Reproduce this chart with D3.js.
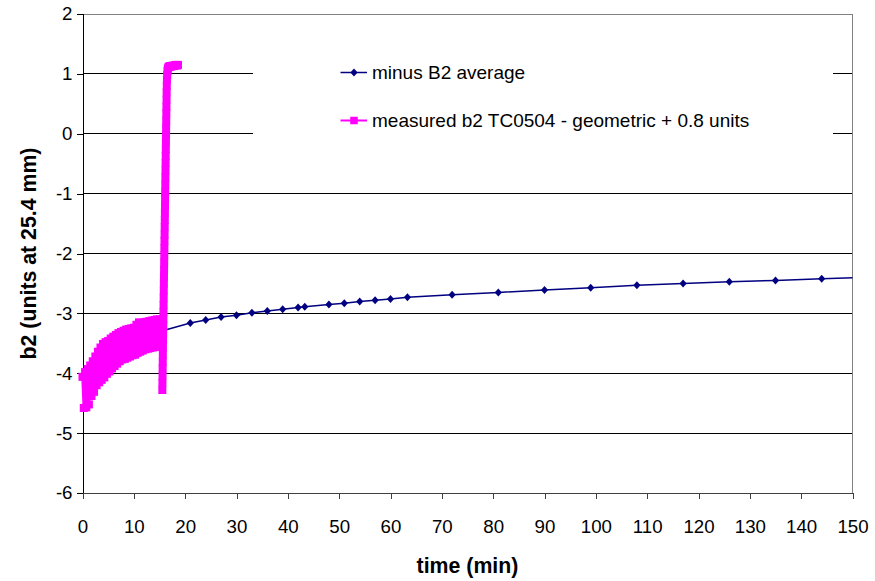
<!DOCTYPE html>
<html>
<head>
<meta charset="utf-8">
<script src="https://cdn.jsdelivr.net/npm/d3@7"></script>
<style>
  html, body { margin: 0; padding: 0; background: #fff; }
  svg { display: block; font-family: "Liberation Sans", Arial, sans-serif; }
</style>
</head>
<body>
<svg id="chart" width="875" height="581"></svg>
<script>
// Axis ticks
const xTicks = [0, 10, 20, 30, 40, 50, 60, 70, 80, 90, 100, 110, 120, 130, 140, 150];
const yTicks = [2, 1, 0, -1, -2, -3, -4, -5, -6];

// Series 1: minus B2 average
const avgTime = [15.6, 21, 24, 27, 30, 33, 36, 39, 42, 43.3, 48, 51, 54, 57, 60, 63.3,
                 72, 81, 90, 99, 108, 117, 126, 135, 144, 153];
const avgB2 = [-3.29, -3.16, -3.11, -3.06, -3.03, -2.99, -2.96, -2.93, -2.90, -2.89, -2.85,
               -2.83, -2.80, -2.78, -2.76, -2.73, -2.69, -2.65, -2.61, -2.57, -2.53, -2.50,
               -2.47, -2.45, -2.42, -2.40];

// Series 2: measured b2 TC0504 - geometric + 0.8 units
const measTime = [
  // ramp-up period, alternating readings
  0, 0.25, 0.5, 0.75, 1.0, 1.25, 1.5, 1.75, 2.0, 2.25, 2.5, 2.75, 3.0, 3.25,
  3.5, 3.75, 4.0, 4.25, 4.5, 4.75, 5.0, 5.25, 5.5, 5.75, 6.0, 6.25, 6.5, 6.75,
  7.0, 7.25, 7.5, 7.75, 8.0, 8.25, 8.5, 8.75, 9.0, 9.25, 9.5, 9.75, 10.0, 10.25,
  10.5, 10.75, 11.0, 11.25, 11.5, 11.75, 12.0, 12.25, 12.5, 12.75, 13.0, 13.25,
  13.5, 13.75, 14.0, 14.25, 14.5, 14.75, 15.0, 15.25,
  // fast jump
  15.55, 15.57, 15.59, 15.61, 15.63, 15.65, 15.67, 15.69, 15.71, 15.73, 15.75, 15.77,
  15.79, 15.81, 15.83, 15.85, 15.87, 15.89, 15.91, 15.93, 15.95, 15.97, 15.99, 16.01,
  16.03, 16.05, 16.07, 16.09, 16.11, 16.13, 16.15, 16.17, 16.19, 16.21, 16.23, 16.25,
  16.27, 16.29, 16.31, 16.33, 16.35, 16.37, 16.39, 16.42, 16.45,
  // plateau
  16.50, 16.56, 16.63, 16.72, 16.85, 17.0, 17.2, 17.4, 17.6, 17.8, 18.0, 18.2, 18.4, 18.6];
const measB2 = [
  -4.06, -4.58, -3.98, -4.57, -3.93, -4.52, -3.87, -4.38, -3.80, -4.31, -3.72,
  -4.20, -3.64, -4.15, -3.57, -4.11, -3.51, -4.07, -3.48, -4.01, -3.46, -3.97,
  -3.42, -3.92, -3.39, -3.88, -3.36, -3.84, -3.33, -3.80, -3.31, -3.77, -3.29,
  -3.76, -3.27, -3.74, -3.26, -3.72, -3.25, -3.70, -3.24, -3.69, -3.19, -3.66,
  -3.15, -3.64, -3.16, -3.62, -3.15, -3.60, -3.14, -3.59, -3.13, -3.58, -3.12,
  -3.57, -3.11, -3.55, -3.10, -3.56, -3.10, -3.55,
  -4.28, -4.16, -4.04, -3.92, -3.81, -3.69, -3.57, -3.45, -3.33, -3.21, -3.10, -2.98,
  -2.86, -2.74, -2.62, -2.50, -2.39, -2.27, -2.15, -2.03, -1.91, -1.79, -1.68, -1.56,
  -1.44, -1.32, -1.20, -1.08, -0.97, -0.85, -0.73, -0.61, -0.49, -0.37, -0.26, -0.14,
  -0.02, 0.10, 0.22, 0.34, 0.45, 0.57, 0.69, 0.80, 0.90,
  0.98, 1.05, 1.09, 1.11, 1.12, 1.13, 1.12, 1.13, 1.14, 1.13, 1.14, 1.15, 1.14, 1.15];

const seriesNames = ["minus B2 average", "measured b2 TC0504 - geometric + 0.8 units"];
const NAVY = "#000080", MAGENTA = "#FF00FF";

const svg = d3.select("#chart");
const plotL = 82.5, plotR = 852.5, plotT = 14, plotB = 493;

const x = d3.scaleLinear().domain([0, 150]).range([plotL, plotR]);
const y = d3.scaleLinear().domain([-6, 2]).range([plotB, plotT]);

// Gridlines
svg.append("g")
  .selectAll("line")
  .data(yTicks.filter(v => v > -6 && v < 2))
  .join("line")
  .attr("x1", plotL).attr("x2", plotR)
  .attr("y1", d => y(d)).attr("y2", d => y(d))
  .attr("stroke", "#000").attr("stroke-width", 1)
  .attr("shape-rendering", "crispEdges");

// Plot area border (top and right)
svg.append("path")
  .attr("d", `M${plotL},${plotT}H${plotR}V${plotB}`)
  .attr("fill", "none").attr("stroke", "#808080").attr("stroke-width", 1)
  .attr("shape-rendering", "crispEdges");

// Legend background (covers the gridlines behind it)
svg.append("rect")
  .attr("x", 253).attr("y", 45).attr("width", 580).attr("height", 105)
  .attr("fill", "#fff");

const fmt = d => String(d);

// Y axis
const yAxis = svg.append("g")
  .attr("transform", `translate(${plotL},0)`)
  .call(d3.axisLeft(y).tickValues(yTicks).tickSize(6).tickPadding(4).tickFormat(fmt));
yAxis.select(".domain").attr("stroke", "#000").attr("shape-rendering", "crispEdges");
yAxis.selectAll(".tick line").attr("stroke", "#000").attr("shape-rendering", "crispEdges");
yAxis.selectAll(".tick text")
  .attr("font-size", "18.7px").attr("fill", "#000")
  .attr("font-family", "'Liberation Sans', Arial, sans-serif");

// X axis
const xAxis = svg.append("g")
  .attr("transform", `translate(0,${plotB})`)
  .call(d3.axisBottom(x).tickValues(xTicks).tickSize(6).tickPadding(0).tickFormat(fmt));
xAxis.select(".domain").attr("stroke", "#404040").attr("shape-rendering", "crispEdges");
xAxis.selectAll(".tick line").attr("stroke", "#404040").attr("shape-rendering", "crispEdges");
xAxis.selectAll(".tick text")
  .attr("font-size", "18.7px").attr("fill", "#000")
  .attr("font-family", "'Liberation Sans', Arial, sans-serif")
  .attr("dy", null).attr("y", 40);

// Axis titles
svg.append("text")
  .attr("x", (plotL + plotR) / 2).attr("y", 573)
  .attr("text-anchor", "middle")
  .attr("font-size", "21.3px").attr("font-weight", "bold")
  .text("time (min)");

svg.append("text")
  .attr("transform", `translate(36,${(plotT + plotB) / 2}) rotate(-90)`)
  .attr("text-anchor", "middle")
  .attr("font-size", "21.3px").attr("font-weight", "bold")
  .text("b2 (units at 25.4 mm)");

// Clip for the average curve at the plot edges
svg.append("defs").append("clipPath").attr("id", "plotClip")
  .append("rect").attr("x", plotL).attr("y", 0).attr("width", plotR - plotL).attr("height", 581);

const diamond = "M0,-4L3.6,0L0,4L-3.6,0Z";
const sq = 8;

// Series 1
const avgData = avgTime.map((t, i) => [t, avgB2[i]]);
const g1 = svg.append("g").attr("clip-path", "url(#plotClip)");
g1.append("path")
  .datum(avgData)
  .attr("d", d3.line().x(d => x(d[0])).y(d => y(d[1])))
  .attr("fill", "none").attr("stroke", NAVY).attr("stroke-width", 1.5);
g1.selectAll("path.pt")
  .data(avgData)
  .join("path").attr("class", "pt")
  .attr("d", diamond)
  .attr("transform", d => `translate(${x(d[0])},${y(d[1])})`)
  .attr("fill", NAVY);

// Series 2
const measData = measTime.map((t, i) => [t, measB2[i]]);
const g2 = svg.append("g");
g2.append("path")
  .datum(measData)
  .attr("d", d3.line().x(d => x(d[0])).y(d => y(d[1])))
  .attr("fill", "none").attr("stroke", MAGENTA).attr("stroke-width", 2.5)
  .attr("stroke-linejoin", "round");
g2.selectAll("rect")
  .data(measData)
  .join("rect")
  .attr("x", d => x(d[0]) - sq / 2).attr("y", d => y(d[1]) - sq / 2)
  .attr("width", sq).attr("height", sq)
  .attr("fill", MAGENTA);

// Legend
const legend = svg.append("g");
const legendRows = [
  { name: seriesNames[0], color: NAVY, yy: 72.5, marker: "diamond" },
  { name: seriesNames[1], color: MAGENTA, yy: 120.5, marker: "square" }
];
legendRows.forEach(r => {
  legend.append("line")
    .attr("x1", 340.5).attr("x2", 367).attr("y1", r.yy).attr("y2", r.yy)
    .attr("stroke", r.color).attr("stroke-width", r.marker === "diamond" ? 1.5 : 2);
  if (r.marker === "diamond") {
    legend.append("path").attr("d", diamond)
      .attr("transform", `translate(354,${r.yy})`).attr("fill", r.color);
  } else {
    legend.append("rect")
      .attr("x", 354 - 3.75).attr("y", r.yy - 3.75)
      .attr("width", 7.5).attr("height", 7.5).attr("fill", r.color);
  }
  legend.append("text")
    .attr("x", 372).attr("y", r.yy + 6.5)
    .attr("font-size", "19px").attr("fill", "#000")
    .text(r.name);
});
</script>
</body>
</html>
